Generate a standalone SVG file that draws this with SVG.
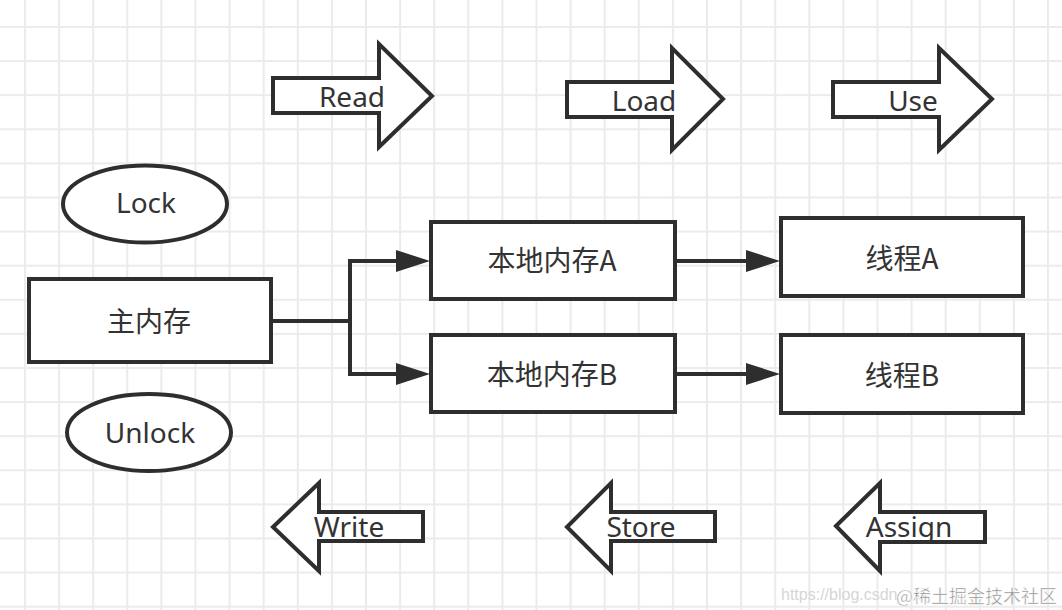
<svg xmlns="http://www.w3.org/2000/svg" width="1062" height="610" viewBox="0 0 1062 610">
  <defs>
    <pattern id="grid" x="24" y="26" width="34.1" height="34.1" patternUnits="userSpaceOnUse">
      <path d="M1 0 V34.1 M0 1 H34.1" fill="none" stroke="#ebebeb" stroke-width="2"/>
    </pattern>
    <marker id="ah" markerWidth="36" markerHeight="24" refX="0" refY="12" orient="auto" markerUnits="userSpaceOnUse">
      <path d="M0,1 L34,12 L0,23 Z" fill="#2e2e2e"/>
    </marker>
  </defs>
  <style>
    .shape { fill: #ffffff; stroke: #2e2e2e; stroke-width: 4; stroke-linejoin: miter; stroke-miterlimit: 10; }
    .conn { fill: none; stroke: #2e2e2e; stroke-width: 4; }
    .lbl { font-family: "Noto Sans", "Noto Sans CJK SC", sans-serif; font-size: 28px; fill: #333333; text-anchor: middle; }
    .cjk { font-family: "Noto Sans CJK SC", "Noto Sans", sans-serif; font-size: 28px; fill: #333333; text-anchor: middle; }
  </style>
  <rect width="1062" height="610" fill="#ffffff"/>
  <rect width="1062" height="610" fill="url(#grid)"/>

  <g id="read">
    <polygon class="shape" points="273,78 379,78 379,44 432,96 379,147 379,113 273,113"/>
    <text class="lbl" x="352" y="107">Read</text>
  </g>
  <g id="load">
    <polygon class="shape" points="567,82 672,82 672,48 723,99 672,150 672,117 567,117"/>
    <text class="lbl" x="644" y="111">Load</text>
  </g>
  <g id="use">
    <polygon class="shape" points="833,82 939,82 939,48 992,99 939,150 939,117 833,117"/>
    <text class="lbl" x="913" y="111">Use</text>
  </g>

  <g id="lock">
    <ellipse class="shape" cx="145" cy="204" rx="82" ry="38.5"/>
    <text class="lbl" x="146" y="213">Lock</text>
  </g>
  <g id="unlock">
    <ellipse class="shape" cx="149" cy="432.5" rx="82" ry="38.5"/>
    <text class="lbl" x="150" y="443">Unlock</text>
  </g>

  <g id="main-memory">
    <rect class="shape" x="29" y="279" width="242" height="83"/>
    <text class="cjk" x="149" y="332">主内存</text>
  </g>
  <g id="local-a">
    <rect class="shape" x="431" y="222" width="244" height="77"/>
    <text class="cjk" x="552" y="271">本地内存A</text>
  </g>
  <g id="local-b">
    <rect class="shape" x="431" y="335" width="244" height="77"/>
    <text class="cjk" x="552" y="385">本地内存B</text>
  </g>
  <g id="thread-a">
    <rect class="shape" x="781" y="218" width="242" height="78"/>
    <text class="cjk" x="902" y="269">线程A</text>
  </g>
  <g id="thread-b">
    <rect class="shape" x="781" y="335" width="242" height="78"/>
    <text class="cjk" x="902" y="386">线程B</text>
  </g>

  <g id="write">
    <polygon class="shape" points="273,527 319,483 319,512 423,512 423,541 319,541 319,571"/>
    <text class="lbl" x="349" y="537">Write</text>
  </g>
  <g id="store">
    <polygon class="shape" points="567,527 611,483 611,512 715,512 715,541 611,541 611,571"/>
    <text class="lbl" x="641" y="537">Store</text>
  </g>
  <g id="assign">
    <polygon class="shape" points="836,526 880,483 880,512 985,512 985,542 880,542 880,571"/>
    <text class="lbl" x="909" y="537">Assign</text>
  </g>

  <g id="connectors">
    <path class="conn" d="M271 321 H350 M350 259 V376"/>
    <path class="conn" d="M348 261 H396" marker-end="url(#ah)"/>
    <path class="conn" d="M348 374 H396" marker-end="url(#ah)"/>
    <path class="conn" d="M675 261 H746" marker-end="url(#ah)"/>
    <path class="conn" d="M675 374 H746" marker-end="url(#ah)"/>
  </g>

  <g id="watermark">
    <text x="781" y="600" font-family="Liberation Sans, Arial, sans-serif" font-size="16" fill="#d6d6d6">https://blog.csdn</text>
    <text x="896" y="603" font-family="Noto Sans CJK SC, sans-serif" font-size="18" fill="#888888" stroke="#ffffff" stroke-width="0.5">@稀土掘金技术社区</text>
  </g>
</svg>
